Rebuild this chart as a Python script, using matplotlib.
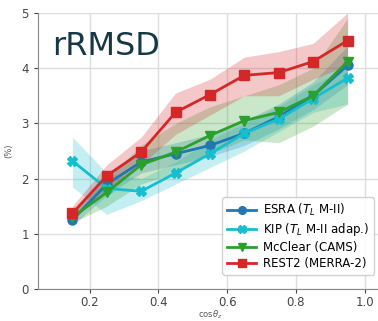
import matplotlib
matplotlib.use("Agg")
import matplotlib.pyplot as plt
import numpy as np

# cos(zenith) bin centres
cosz = [0.15, 0.25, 0.35, 0.45, 0.55, 0.65, 0.75, 0.85, 0.95]

# rRMSD (%) per model
esra = [1.25, 1.90, 2.30, 2.45, 2.60, 2.82, 3.12, 3.50, 4.05]
kip = [2.32, 1.82, 1.77, 2.10, 2.45, 2.82, 3.08, 3.45, 3.82]
mcclear = [1.30, 1.75, 2.25, 2.48, 2.78, 3.05, 3.20, 3.50, 4.12]
rest2 = [1.37, 2.05, 2.48, 3.20, 3.52, 3.87, 3.92, 4.12, 4.50]

# spread bands (low / high)
esra_lo = [1.15, 1.70, 2.10, 2.25, 2.40, 2.60, 2.90, 3.25, 3.70]
esra_hi = [1.35, 2.10, 2.50, 2.65, 2.80, 3.05, 3.35, 3.75, 4.40]
kip_lo = [1.85, 1.35, 1.60, 1.90, 2.20, 2.50, 2.85, 3.20, 3.35]
kip_hi = [2.75, 2.10, 2.00, 2.30, 2.70, 3.00, 3.30, 3.70, 4.00]
mcc_lo = [1.20, 1.50, 1.90, 2.10, 2.45, 2.70, 2.65, 2.95, 3.35]
mcc_hi = [1.40, 2.00, 2.60, 3.00, 3.30, 3.50, 3.70, 4.00, 4.90]
rest_lo = [1.25, 1.80, 2.25, 2.80, 3.15, 3.50, 3.50, 3.80, 4.05]
rest_hi = [1.50, 2.25, 2.75, 3.55, 3.80, 4.20, 4.30, 4.45, 5.00]

labels = [r"ESRA ($T_L$ M-II)", r"KIP ($T_L$ M-II adap.)",
          "McClear (CAMS)", "REST2 (MERRA-2)"]

fig = plt.figure(figsize=(3.78, 3.21), dpi=100)
ax = fig.add_axes([0.1005, 0.0997, 0.91, 0.86])

series = [
    (esra, esra_lo, esra_hi, "#1f77b4", "o"),
    (kip, kip_lo, kip_hi, "#17becf", "X"),
    (mcclear, mcc_lo, mcc_hi, "#2ca02c", "v"),
    (rest2, rest_lo, rest_hi, "#d62728", "s"),
]
for (y, lo, hi, c, m), lab in zip(series, labels):
    ax.fill_between(cosz, lo, hi, color=c, alpha=0.25, lw=0)
    ax.plot(cosz, y, color=c, marker=m, ms=6.5, lw=2, label=lab)

ax.set_xlim(0.05, 1.05)
ax.set_ylim(0, 5)
ax.set_xticks([0.2, 0.4, 0.6, 0.8, 1.0])
ax.set_yticks([0, 1, 2, 3, 4, 5])
ax.grid(True, color="#dddddd", lw=1)
ax.set_axisbelow(True)
for s in ["top", "right"]:
    ax.spines[s].set_visible(False)
for s in ["left", "bottom"]:
    ax.spines[s].set_color("#888888")
ax.tick_params(labelsize=8.5, colors="#444444", length=3)
ax.tick_params(axis="x", pad=2)
ax.set_xlabel(r"cos$\theta_z$", fontsize=6, color="#555555", labelpad=0)
ax.set_ylabel("(%)", fontsize=6, color="#555555", labelpad=6)

ax.text(0.04, 0.935, "rRMSD", transform=ax.transAxes, fontsize=23,
        color="#163845", va="top", ha="left")

ax.legend(loc="lower right", fontsize=8.5, framealpha=0.9,
          edgecolor="#cccccc", bbox_to_anchor=(0.995, 0.03),
          handlelength=2.5, borderpad=0.4, labelspacing=0.25,
          handletextpad=0.6, markerscale=0.85)

fig.savefig("out.png", dpi=100)
